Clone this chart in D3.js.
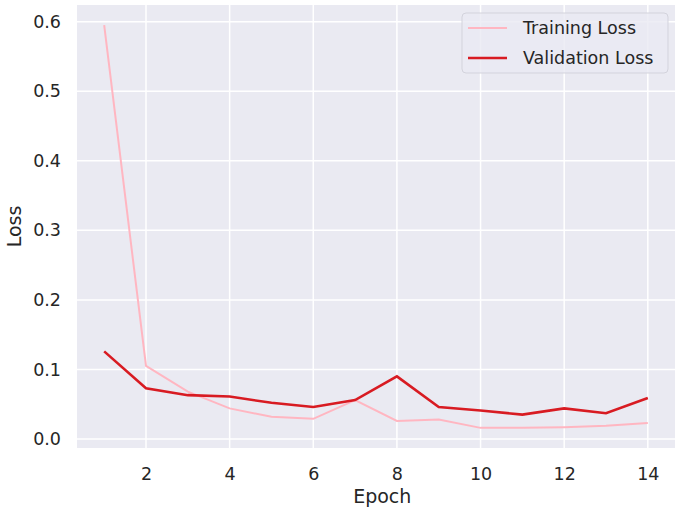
<!DOCTYPE html>
<html>
<head>
<meta charset="utf-8">
<title>Loss</title>
<script src="https://cdn.jsdelivr.net/npm/d3@7"></script>
<style>
  body { margin: 0; background: #fff; }
  text { font-family: "DejaVu Sans", sans-serif; fill: #262626; }
</style>
</head>
<body>
<div id="chart"></div>
<script>
// values
const epochs = [1, 2, 3, 4, 5, 6, 7, 8, 9, 10, 11, 12, 13, 14];
const trainLoss = [0.595, 0.105, 0.068, 0.044, 0.032, 0.029, 0.056, 0.026, 0.028, 0.016, 0.016, 0.017, 0.019, 0.023];
const valLoss = [0.126, 0.073, 0.063, 0.061, 0.052, 0.046, 0.056, 0.090, 0.046, 0.041, 0.035, 0.044, 0.037, 0.059];
const xTicks = [2, 4, 6, 8, 10, 12, 14];
const yTicks = [0.0, 0.1, 0.2, 0.3, 0.4, 0.5, 0.6];

const width = 685, height = 515;
const margin = { top: 5, right: 10, bottom: 67, left: 77 };

const svg = d3.select("#chart").append("svg")
    .attr("width", width)
    .attr("height", height);

// matplotlib style 5% margins
const xPad = (d3.max(epochs) - d3.min(epochs)) * 0.05;
const allY = trainLoss.concat(valLoss);
const yPad = (d3.max(allY) - d3.min(allY)) * 0.05;

const x = d3.scaleLinear()
    .domain([d3.min(epochs) - xPad, d3.max(epochs) + xPad])
    .range([margin.left, width - margin.right]);
const y = d3.scaleLinear()
    .domain([d3.min(allY) - yPad, d3.max(allY) + yPad])
    .range([height - margin.bottom, margin.top]);

// background
svg.append("rect")
    .attr("x", margin.left)
    .attr("y", margin.top)
    .attr("width", width - margin.left - margin.right)
    .attr("height", height - margin.top - margin.bottom)
    .attr("fill", "#eaeaf2");

// grid
svg.append("g").selectAll("line")
    .data(xTicks)
    .enter().append("line")
    .attr("x1", d => x(d)).attr("x2", d => x(d))
    .attr("y1", margin.top).attr("y2", height - margin.bottom)
    .attr("stroke", "#fff").attr("stroke-width", 1.5);
svg.append("g").selectAll("line")
    .data(yTicks)
    .enter().append("line")
    .attr("y1", d => y(d)).attr("y2", d => y(d))
    .attr("x1", margin.left).attr("x2", width - margin.right)
    .attr("stroke", "#fff").attr("stroke-width", 1.5);

// axes (no lines, just labels)
const xAxis = svg.append("g")
    .attr("transform", `translate(0,${height - margin.bottom})`)
    .call(d3.axisBottom(x).tickValues(xTicks).tickSize(0).tickPadding(20).tickFormat(d3.format("d")));
const yAxis = svg.append("g")
    .attr("transform", `translate(${margin.left},0)`)
    .call(d3.axisLeft(y).tickValues(yTicks).tickSize(0).tickPadding(16).tickFormat(d3.format(".1f")));
[xAxis, yAxis].forEach(a => {
    a.select(".domain").remove();
    a.selectAll("text").attr("font-size", 17.5).attr("font-family", "DejaVu Sans").attr("fill", "#333");
});

svg.append("text")
    .attr("x", x(7.65))
    .attr("y", 503)
    .attr("text-anchor", "middle")
    .attr("font-size", 19)
    .attr("fill", "#333")
    .text("Epoch");
svg.append("text")
    .attr("transform", `translate(21,${(margin.top + height - margin.bottom) / 2}) rotate(-90)`)
    .attr("text-anchor", "middle")
    .attr("font-size", 19)
    .attr("fill", "#333")
    .text("Loss");

// lines
const line = vals => d3.line()
    .x((d, i) => x(epochs[i]))
    .y(d => y(d))(vals);

svg.append("path")
    .attr("d", line(trainLoss))
    .attr("fill", "none")
    .attr("stroke", "#ffb6c1")
    .attr("stroke-width", 2);
svg.append("path")
    .attr("d", line(valLoss))
    .attr("fill", "none")
    .attr("stroke", "#d81b22")
    .attr("stroke-width", 2.6);

// legend
const lg = svg.append("g");
lg.append("rect")
    .attr("x", 462).attr("y", 13)
    .attr("width", 206).attr("height", 60)
    .attr("rx", 4)
    .attr("fill", "#eaeaf2").attr("fill-opacity", 0.8)
    .attr("stroke", "#d3d3dc");
const items = [
    { name: "Training Loss", color: "#ffb6c1", w: 2 },
    { name: "Validation Loss", color: "#d81b22", w: 2.6 }
];
items.forEach((it, i) => {
    const cy = 28 + i * 30;
    lg.append("line")
        .attr("x1", 468).attr("x2", 507)
        .attr("y1", cy).attr("y2", cy)
        .attr("stroke", it.color).attr("stroke-width", it.w);
    lg.append("text")
        .attr("x", 523).attr("y", cy + 6)
        .attr("font-size", 17.5)
        .attr("fill", "#333")
        .text(it.name);
});
</script>
</body>
</html>
